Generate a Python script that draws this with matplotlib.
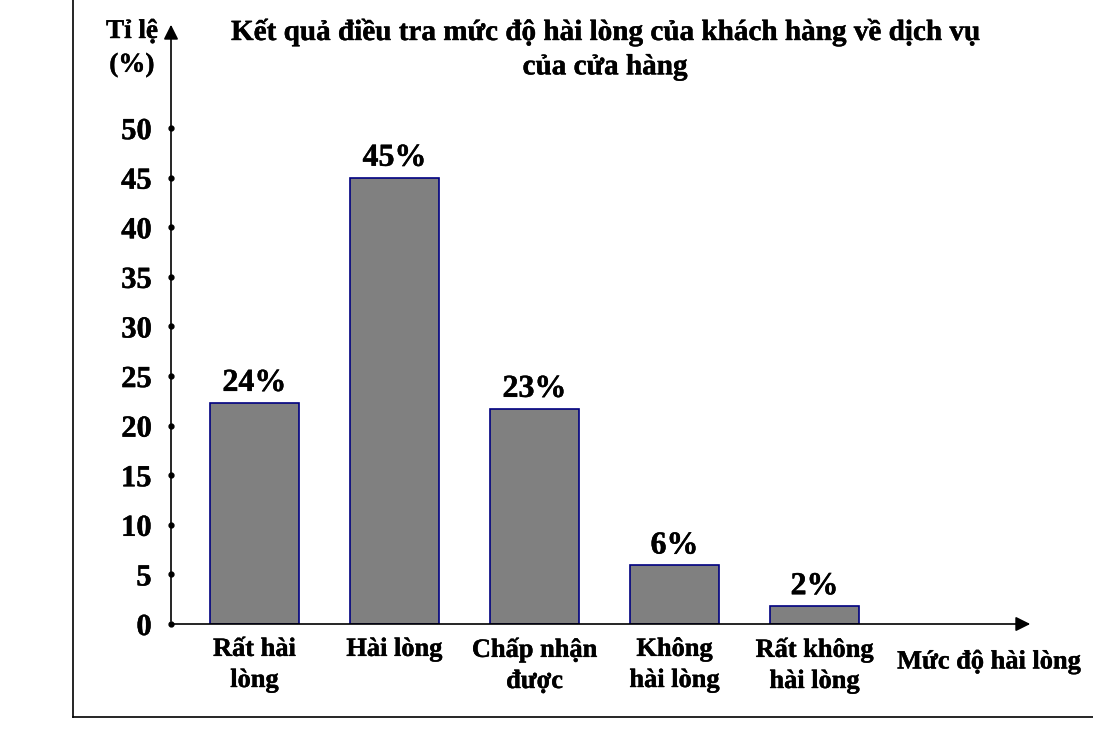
import matplotlib.pyplot as plt
import matplotlib.patheffects as pe
from matplotlib.lines import Line2D

plt.rcParams['font.family'] = ['Liberation Serif', 'DejaVu Serif']
plt.rcParams['font.weight'] = 'bold'

# Daten
muc_do = ['Rất hài\nlòng', 'Hài lòng', 'Chấp nhận\nđược', 'Không\nhài lòng', 'Rất không\nhài lòng']
chieu_cao = [22.3, 45.0, 21.7, 5.9, 1.8]   # Höhe der Balken wie gezeichnet
nhan = ['24%', '45%', '23%', '6%', '2%']
y_ticks = [0, 5, 10, 15, 20, 25, 30, 35, 40, 45, 50]

W, H = 1093, 743
fig = plt.figure(figsize=(W / 100, H / 100), dpi=100)
dick = [pe.withStroke(linewidth=0.3, foreground='black')]  # etwas fettere Schrift

# Achse in Pixeln positionieren
ax = fig.add_axes([171 / W, (H - 624) / H, (1033 - 171) / W, (624 - 22) / H])
x = list(range(len(muc_do)))
ax.bar(x, chieu_cao, width=0.635, color='#808080', edgecolor='#000080', linewidth=1.2, zorder=2)

ax.set_xlim(-0.596, 5.56)
ax.set_ylim(0, 60.7)

for s in ax.spines.values():
    s.set_visible(False)

# Pfeile für die Achsen
ax.annotate('', xy=(0, 1), xytext=(0, 0), xycoords='axes fraction',
            arrowprops=dict(arrowstyle='-|>', mutation_scale=22, lw=1.2, color='black'))
ax.annotate('', xy=(1, 0), xytext=(0, 0), xycoords='axes fraction',
            arrowprops=dict(arrowstyle='-|>', mutation_scale=22, lw=1.2, color='black'))

# Punkte an den Teilstrichen
ax.plot([-0.596] * len(y_ticks), y_ticks, 'o', color='black', markersize=3.5, clip_on=False, zorder=3)

ax.set_yticks(y_ticks)
ax.set_yticklabels([str(v) for v in y_ticks], fontsize=22, fontweight='bold', path_effects=dick)
ax.tick_params(axis='y', length=0, pad=14)

ax.set_xticks(x)
ax.set_xticklabels(muc_do, fontsize=19, fontweight='bold', linespacing=1.45, path_effects=dick)
ax.tick_params(axis='x', length=0, pad=10)

# Werte über den Balken
for xi, h, t in zip(x, chieu_cao, nhan):
    ax.text(xi, h + 0.5, t, ha='center', va='bottom', fontsize=23, fontweight='bold', path_effects=dick)

# Texte
fig.text(605 / W, 1 - 18 / H, 'Kết quả điều tra mức độ hài lòng của khách hàng về dịch vụ\ncủa cửa hàng',
         ha='center', va='top', fontsize=21, fontweight='bold', linespacing=1.35, path_effects=dick)
fig.text(132 / W, 1 - 19 / H, 'Tỉ lệ\n(%)', ha='center', va='top', fontsize=19.5, fontweight='bold',
         linespacing=1.45, path_effects=dick)
fig.text(989 / W, 1 - 662 / H, 'Mức độ hài lòng', ha='center', va='center', fontsize=19, fontweight='bold',
         path_effects=dick)

# Rahmen links und unten
fig.add_artist(Line2D([73 / W, 73 / W], [1, 1 - 717 / H], color='black', lw=1.2, transform=fig.transFigure))
fig.add_artist(Line2D([73 / W, 1], [1 - 717 / H, 1 - 717 / H], color='black', lw=1.2, transform=fig.transFigure))

plt.savefig('out.png', dpi=100)
